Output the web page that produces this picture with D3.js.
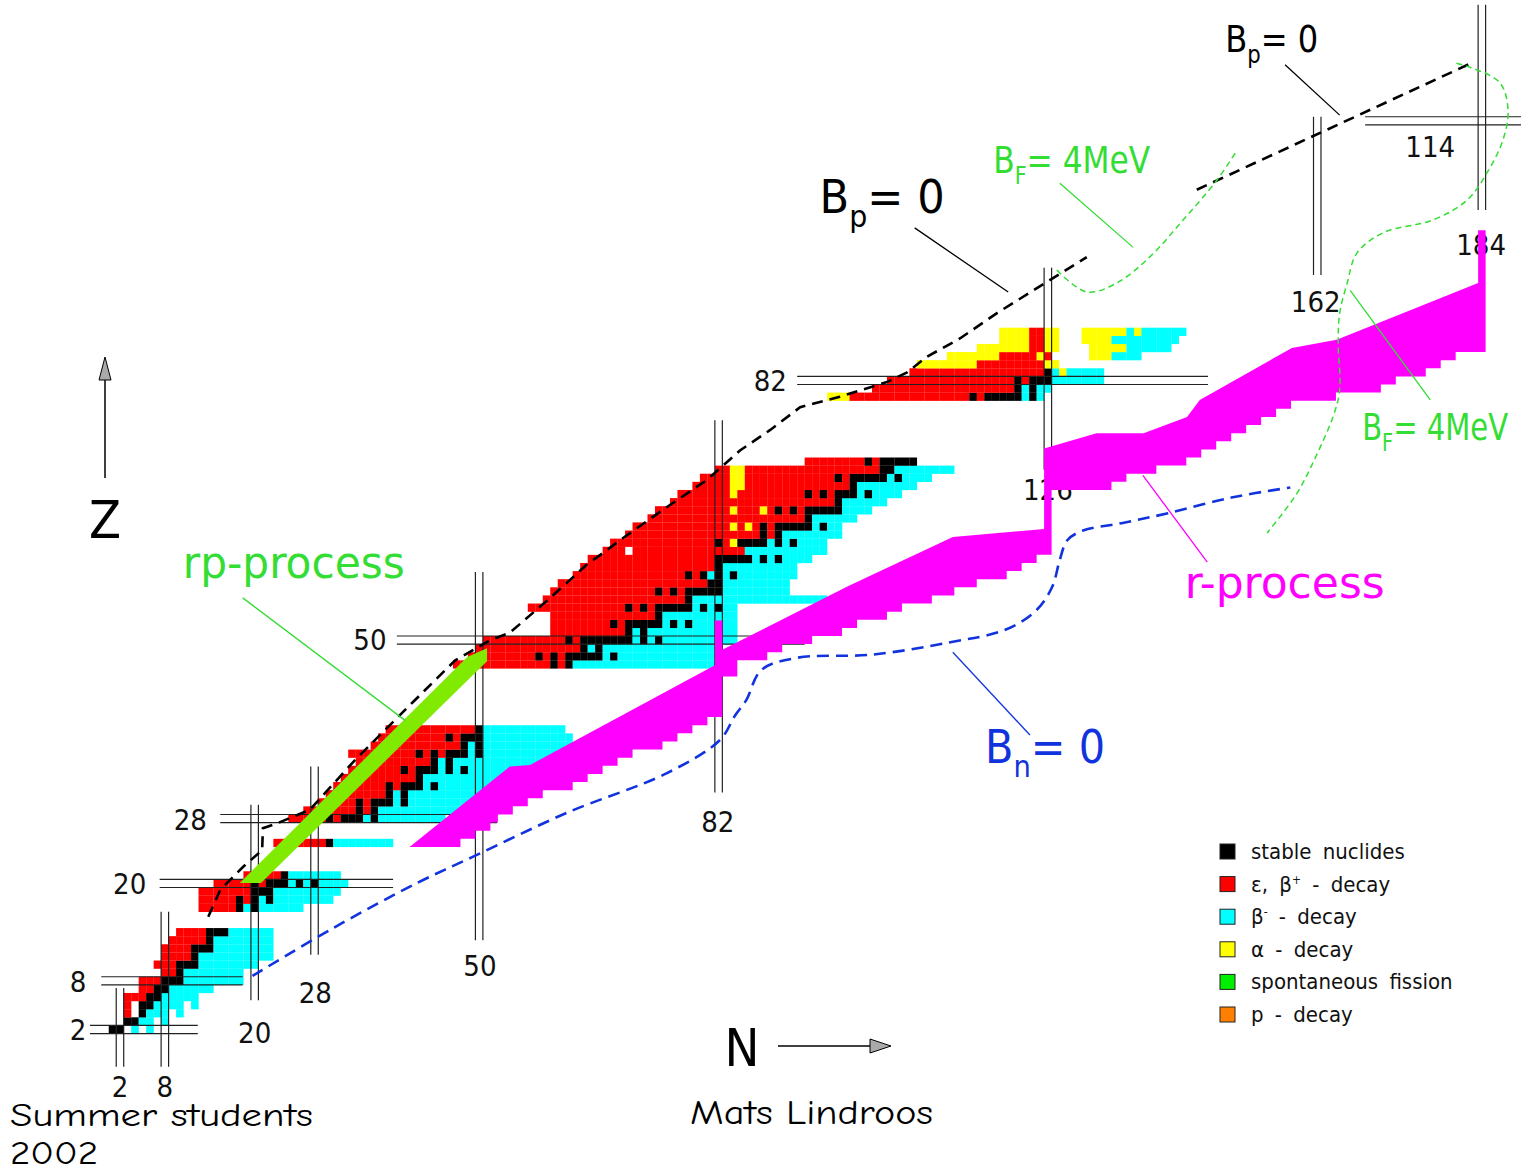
<!DOCTYPE html>
<html>
<head>
<meta charset="utf-8">
<script src="https://cdn.jsdelivr.net/npm/d3@7"></script>
<style>
  body { margin: 0; background: #fff; }
  svg { display: block; }
</style>
</head>
<body>
<svg id="chart" width="1521" height="1174"></svg>
<script>
// ---------- Nuclide rows: [Z, first N, run-length decay codes] ----------
// S = stable, E = electron capture / beta+, B = beta-, A = alpha, "." = no entry
const nuclideRows = [
  [2, 1, "S2 . B . B"],
  [3, 3, "S2 B2 . B"],
  [4, 3, "E . S B3 . B"],
  [5, 3, "E . S2 B4 . B"],
  [6, 3, "E3 S2 B5"],
  [7, 5, "E2 S2 B6"],
  [8, 5, "E3 S3 B8"],
  [9, 8, "E2 S B8"],
  [10, 7, "E3 S3 B8"],
  [11, 8, "E4 S B10"],
  [12, 8, "E4 S3 B8"],
  [13, 9, "E5 S B8"],
  [14, 10, "E4 S3 B6"],
  [17, 13, "E5 S B S B6"],
  [18, 13, "E5 S E S B S B8"],
  [19, 13, "E7 S3 B9"],
  [20, 15, "E5 S E S3 B S B S B4"],
  [21, 19, "E5 S B7"],
  [25, 23, "E7 S B8"],
  [28, 25, "E5 S E S3 B S B9"],
  [29, 27, "E7 S E S B11"],
  [30, 29, "E5 S E S3 B S B9"],
  [31, 30, "E8 S B S B11"],
  [32, 31, "E7 S E S3 B S B8"],
  [33, 32, "E10 S B12"],
  [34, 33, "E7 S E S3 B S B S B8"],
  [35, 34, "E10 S B S B12"],
  [36, 33, "E9 S E S E S3 B S B10"],
  [37, 36, "E12 S B S B12"],
  [38, 37, "E9 S E S3 B12"],
  [39, 38, "E12 S B11"],
  [47, 47, "E13 S E S B20"],
  [48, 49, "E9 S E S E S5 B S B14"],
  [49, 50, "E14 S B S B16"],
  [50, 51, "E11 S E S7 B S B S B10"],
  [51, 60, "E10 S B S B12"],
  [52, 60, "E8 S E S5 B S B S B6"],
  [53, 60, "E14 S B10"],
  [54, 57, "E13 S E S E S5 B S B S B2"],
  [55, 59, "E19 S B18"],
  [56, 60, "E14 S E S E S5 B9"],
  [57, 61, "E20 S2 B9"],
  [58, 63, "E15 S E S B S B S B8"],
  [59, 64, "E18 S B10"],
  [60, 65, "E17 S5 B S B S B4"],
  [61, 67, "E3 . E15 B11"],
  [62, 68, "E14 S E A S4 B S B S B4"],
  [63, 70, "E18 S E S B8"],
  [64, 71, "E13 A E A E S E S5 B S B2"],
  [65, 73, "E21 S B6"],
  [66, 74, "E10 A E3 A E S E S E S5 B4"],
  [67, 76, "E22 S B6"],
  [68, 77, "E7 A E9 S E S E S3 B S B4"],
  [69, 79, "E5 A2 E14 S B8"],
  [70, 80, "E4 A2 E12 S E S5 B S B4"],
  [71, 82, "E2 A2 E18 S2 B8"],
  [72, 94, "E8 S E S5"],
  [80, 97, "A3 E16 S E S5 B S B"],
  [81, 103, "E19 S B S B2"],
  [82, 105, "E17 S E S3 B7"],
  [83, 108, "E18 S B A B5"],
  [84, 109, "A8 E9 A2"],
  [85, 113, "A7 E5 A E .5 A3 B4"],
  [86, 117, "A7 E2 A2 .4 A5 B6"],
  [87, 120, "A4 E2 A2 .3 A4 B9"],
  [88, 120, "A4 E2 A2 .3 A6 B A B6"]
];

// ---------- Magic numbers: [value, from, to] along the other axis ----------
const magicZ = [[2, -2, 12.4], [8, -0.5, 18.4], [20, 7.3, 38.5], [28, 15.4, 52.4],
                [50, 39, 93.5], [82, 92.5, 147.4], [114, 168.4, 190]];
const magicN = [[2, -2.6, 7.1], [8, -2.6, 16.5], [20, 5.6, 29.7], [28, 11.2, 34.4],
                [50, 13, 58.4], [82, 31.2, 77.1], [126, 71, 95.9], [162, 95, 114.5],
                [184, 103, 128.3]];
// magic number labels: [text, N, Z]
const magicLabels = [
  ["2", -3.6, 1.9], ["8", -3.6, 7.8], ["20", 3.3, 19.9], ["28", 11.4, 27.8],
  ["50", 35.4, 50.0], ["82", 88.9, 81.9], ["114", 177.1, 110.8],
  ["2", 2.0, -5.1], ["8", 8.0, -5.1], ["20", 20.0, 1.6], ["28", 28.1, 6.5],
  ["50", 50.1, 9.8], ["82", 81.9, 27.6], ["126", 126.0, 68.5],
  ["162", 161.8, 91.7], ["184", 183.9, 98.7]
];

// ---------- rp-process path outline [N, Z] ----------
const rpBand = [[18.0, 20.05], [20.85, 20.05], [51.05, 47.4], [51.05, 49.0], [48.4, 47.9]];

// ---------- r-process path: upper outline [N, Z] and lower steps [Ztop, Zbottom, Nmax] ----------
const rUpper = [[40.7, 24.5], [54.1, 34.4], [56.8, 34.6], [81.5, 46.9], [81.5, 52.4],
  [82.5, 52.4], [82.5, 48.8], [99.2, 56.6], [113.3, 62.7], [125.5, 63.7], [125.5, 73.6],
  [132.5, 75.5], [138.8, 75.5], [144.6, 77.5], [146.3, 79.6], [158.6, 86.0], [164.6, 87.0],
  [183.5, 94.0], [183.5, 100.5], [184.5, 100.5]];
const rLowerSteps = [[100, 86, 184], [85, 85, 180], [84, 84, 178], [83, 83, 176], [82, 82, 172],
  [81, 81, 170], [80, 80, 164], [79, 79, 158], [78, 78, 156], [77, 77, 154], [76, 76, 152],
  [75, 75, 150], [74, 74, 148], [73, 73, 146], [72, 72, 144], [71, 71, 140], [70, 70, 136],
  [69, 69, 134], [68, 61, 126], [60, 60, 124], [59, 59, 122], [58, 58, 120], [57, 57, 116],
  [56, 56, 113], [55, 55, 110], [54, 54, 106], [53, 53, 104], [52, 52, 100], [51, 51, 98],
  [50, 50, 94], [49, 49, 90], [48, 48, 88], [47, 46, 84], [45, 41, 82], [40, 40, 80],
  [39, 39, 78], [38, 38, 76], [37, 37, 74], [36, 36, 70], [35, 35, 68], [34, 34, 66],
  [33, 33, 64], [32, 32, 62], [31, 31, 58], [30, 30, 56], [29, 29, 54], [28, 28, 52],
  [27, 27, 51], [26, 26, 49], [25, 25, 47]];

// ---------- Separation energy / fission barrier limits [N, Z] ----------
const protonDripA = [[13.8, 15.9], [15.4, 19.2], [18.4, 22.0], [21.0, 24.1], [21.1, 26.8],
  [23.0, 27.4], [27.4, 29.1], [33.4, 35.2], [41.2, 42.4], [46.8, 47.5], [51.5, 50.0],
  [54.1, 50.9], [59.5, 55.2], [64.4, 59.3], [67.1, 61.1], [68.8, 62.3], [75.1, 66.4],
  [80.4, 69.7], [84.9, 73.4], [88.9, 75.9], [92.9, 78.7], [98.2, 80.0], [104.5, 81.8],
  [107.2, 83.0], [109.8, 84.9], [114.3, 87.2], [119.2, 90.3], [131.2, 97.2]];
const protonDripB = [[145.9, 105.5], [182.8, 121.2]];
const neutronDrip = [[19.7, 8.6], [30.5, 14.5], [41.8, 20.1], [49.2, 23.3], [61.7, 28.7],
  [75.1, 33.6], [82.2, 37.7], [84.2, 40.7], [85.7, 42.6], [87.7, 46.3], [92.4, 47.8],
  [102.5, 48.2], [112.8, 49.7], [120.4, 51.3], [124.5, 53.7], [126.6, 56.6], [127.6, 59.9],
  [128.6, 62.3], [130.7, 63.5], [135.8, 64.4], [141.9, 65.6], [150.7, 67.6], [158.4, 68.8]];
const fissionA = [[127.2, 95.6], [131.2, 92.9], [135.2, 94.0], [139.6, 97.2], [144.1, 101.8],
  [148.6, 106.7], [151.3, 110.4]];
const fissionB = [[180.6, 121.1], [182.4, 120.6], [186.4, 118.7], [187.5, 115.3], [186.8, 111.6],
  [184.7, 107.6], [182.0, 104.2], [177.5, 101.8], [170.8, 100.2], [167.3, 97.7], [166.0, 94.0],
  [165.0, 90.3], [164.8, 86.6], [165.0, 80.8], [164.1, 77.5], [162.0, 73.0], [159.3, 68.1],
  [155.3, 63.2]];

// ---------- Legend ----------
const legendLabels = ["stable nuclides", "ε, β^+ - decay", "β^- - decay", "α - decay",
  "spontaneous fission", "p - decay"];
const legendColors = ["#000000", "#ff0000", "#00ffff", "#ffff00", "#00ee00", "#ff8000"];

// ---------- Styling ----------
const C = {
  S: "#000000", E: "#ff0000", B: "#00ffff", A: "#ffff00",
  rp: "#80ea00", r: "#ff00ff", green: "#33dd33", blue: "#1133dd", magic: "#222222"
};
const FONT = "'DejaVu Sans Condensed', 'Liberation Sans Narrow', sans-serif";

const svg = d3.select("#chart");
const x = d3.scaleLinear().domain([0, 200]).range([105, 105 + 7.483 * 200]);
const y = d3.scaleLinear().domain([0, 120]).range([1045.7, 1045.7 - 8.113 * 120]);
const line = d3.line().x(d => x(d[0])).y(d => y(d[1]));
const smooth = d3.line().x(d => x(d[0])).y(d => y(d[1])).curve(d3.curveCatmullRom.alpha(0.5));

// expand run-length rows into individual nuclides
function expandRow([Z, N0, runs]) {
  const out = [];
  let n = N0;
  runs.split(" ").forEach(tok => {
    const t = tok[0];
    const k = tok.length > 1 ? +tok.slice(1) : 1;
    for (let i = 0; i < k; i++, n++) if (t !== ".") out.push({ Z, N: n, t });
  });
  return out;
}
const cells = nuclideRows.flatMap(expandRow);

// nuclide cells
svg.append("g").selectAll("rect").data(cells).join("rect")
  .attr("x", d => x(d.N - 0.5))
  .attr("y", d => y(d.Z + 0.5))
  .attr("width", d => x(d.N + 0.5) - x(d.N - 0.5) + 0.15)
  .attr("height", d => y(d.Z - 0.5) - y(d.Z + 0.5) + 0.15)
  .attr("fill", d => C[d.t]);

// magic number double lines
const gMagic = svg.append("g").attr("stroke", C.magic).attr("stroke-width", 1.2);
magicZ.forEach(([v, a, b]) => [-0.5, 0.5].forEach(o =>
  gMagic.append("line").attr("x1", x(a)).attr("x2", x(b)).attr("y1", y(v + o)).attr("y2", y(v + o))));
magicN.forEach(([v, a, b]) => [-0.5, 0.5].forEach(o =>
  gMagic.append("line").attr("x1", x(v + o)).attr("x2", x(v + o)).attr("y1", y(a)).attr("y2", y(b))));

svg.append("g").selectAll("text").data(magicLabels).join("text")
  .attr("x", d => x(d[1])).attr("y", d => y(d[2]))
  .attr("text-anchor", "middle").attr("dominant-baseline", "central")
  .attr("font-family", FONT).attr("font-size", 29).attr("fill", "#111")
  .text(d => d[0]);

// rp-process band
svg.append("path").attr("d", line(rpBand) + "Z").attr("fill", C.rp);

// r-process band
const rPoly = rUpper.slice();
rLowerSteps.forEach(([zt, zb, nm]) => { rPoly.push([nm + 0.5, zt + 0.5]); rPoly.push([nm + 0.5, zb - 0.5]); });
svg.append("path").attr("d", line(rPoly) + "Z").attr("fill", C.r);

// limit lines
svg.append("path").attr("d", line(protonDripA)).attr("fill", "none").attr("stroke", "#000")
  .attr("stroke-width", 2.6).attr("stroke-dasharray", "11,7");
svg.append("path").attr("d", line(protonDripB)).attr("fill", "none").attr("stroke", "#000")
  .attr("stroke-width", 2.6).attr("stroke-dasharray", "11,7");
svg.append("path").attr("d", smooth(neutronDrip)).attr("fill", "none").attr("stroke", C.blue)
  .attr("stroke-width", 2.6).attr("stroke-dasharray", "12,7");
[fissionA, fissionB].forEach(p => svg.append("path").attr("d", smooth(p)).attr("fill", "none")
  .attr("stroke", C.green).attr("stroke-width", 1.5).attr("stroke-dasharray", "6,4"));

// annotation leaders [fromN, fromZ, toN, toZ, colour]
const leaders = [
  [108.2, 100.8, 120.7, 92.9, "#000"], [157.7, 120.9, 165.0, 114.7, "#000"],
  [127.6, 106.3, 137.4, 98.4, C.green], [166.4, 93.1, 177.1, 79.6, C.green],
  [138.7, 70.3, 147.3, 59.6, C.r], [113.3, 48.5, 123.6, 38.3, C.blue],
  [18.4, 55.2, 40.1, 40.1, C.green]
];
svg.append("g").selectAll("line").data(leaders).join("line")
  .attr("x1", d => x(d[0])).attr("y1", d => y(d[1]))
  .attr("x2", d => x(d[2])).attr("y2", d => y(d[3]))
  .attr("stroke", d => d[4]).attr("stroke-width", 1.3);

// annotation texts: text (with _sub), N, Z (baseline start), size, colour, width
const notes = [
  ["rp-process", 10.4, 57.6, 44, C.green, 222],
  ["r-process", 144.3, 55.2, 44, C.r, 200],
  ["B_n= 0", 117.6, 34.8, 46, C.blue, 120],
  ["B_p= 0", 95.5, 102.6, 46, "#000", 125],
  ["B_p= 0", 149.7, 122.5, 38, "#000", 93],
  ["B_F= 4MeV", 118.7, 107.6, 38, C.green, 157],
  ["B_F= 4MeV", 168.0, 74.7, 38, C.green, 146]
];
function richText(sel, str, size) {
  const m = str.split("_");
  if (m.length === 1) { sel.text(str); return; }
  sel.append("tspan").text(m[0]);
  sel.append("tspan").attr("dy", size * 0.3).attr("font-size", size * 0.66).text(m[1][0]);
  sel.append("tspan").attr("dy", -size * 0.3).text(m[1].slice(1));
}
notes.forEach(([t, n, z, s, c, w]) => {
  const el = svg.append("text").attr("x", x(n)).attr("y", y(z))
    .attr("font-family", FONT).attr("font-size", s).attr("fill", c)
    .attr("textLength", w).attr("lengthAdjust", "spacingAndGlyphs");
  richText(el, t, s);
});

// axis arrows
svg.append("line").attr("x1", 105).attr("x2", 105).attr("y1", 478).attr("y2", 378)
  .attr("stroke", "#000").attr("stroke-width", 1.5);
svg.append("path").attr("d", "M99,380 L111,380 L105,357 Z").attr("fill", "#aaa").attr("stroke", "#000");
svg.append("text").attr("x", 105).attr("y", 538).attr("text-anchor", "middle")
  .attr("font-family", FONT).attr("font-size", 52).text("Z");
svg.append("line").attr("x1", 778).attr("x2", 872).attr("y1", 1046).attr("y2", 1046)
  .attr("stroke", "#000").attr("stroke-width", 1.5);
svg.append("path").attr("d", "M870,1039 L870,1053 L891,1046 Z").attr("fill", "#aaa").attr("stroke", "#000");
svg.append("text").attr("x", 742).attr("y", 1066).attr("text-anchor", "middle")
  .attr("font-family", FONT).attr("font-size", 52).text("N");

// legend
const lg = svg.append("g").attr("transform", "translate(1220,852)");
legendLabels.forEach((lab, i) => {
  const gy = i * 32.6;
  lg.append("rect").attr("x", 0).attr("y", gy - 8).attr("width", 15).attr("height", 15)
    .attr("fill", legendColors[i]).attr("stroke", "#222").attr("stroke-width", 1);
  const t = lg.append("text").attr("x", 31).attr("y", gy + 7)
    .attr("font-family", FONT).attr("font-size", 22).attr("word-spacing", 5).attr("fill", "#111");
  const parts = lab.split("^");
  t.append("tspan").text(parts[0]);
  if (parts.length > 1) {
    t.append("tspan").attr("dy", -8).attr("font-size", 12).text(parts[1][0]);
    t.append("tspan").attr("dy", 8).text(parts[1].slice(1));
  }
});

// credits
const FOOT = "'Comic Sans MS', 'Comic Neue', 'DejaVu Sans', sans-serif";
svg.append("text").attr("x", 10).attr("y", 1126).attr("font-family", FOOT).attr("font-size", 33)
  .attr("textLength", 303).attr("lengthAdjust", "spacingAndGlyphs").text("Summer students");
svg.append("text").attr("x", 10).attr("y", 1164).attr("font-family", FOOT).attr("font-size", 33)
  .attr("textLength", 88).attr("lengthAdjust", "spacingAndGlyphs").text("2002");
svg.append("text").attr("x", 690).attr("y", 1124).attr("font-family", FOOT).attr("font-size", 34)
  .attr("textLength", 243).attr("lengthAdjust", "spacingAndGlyphs").text("Mats Lindroos");
</script>
</body>
</html>
